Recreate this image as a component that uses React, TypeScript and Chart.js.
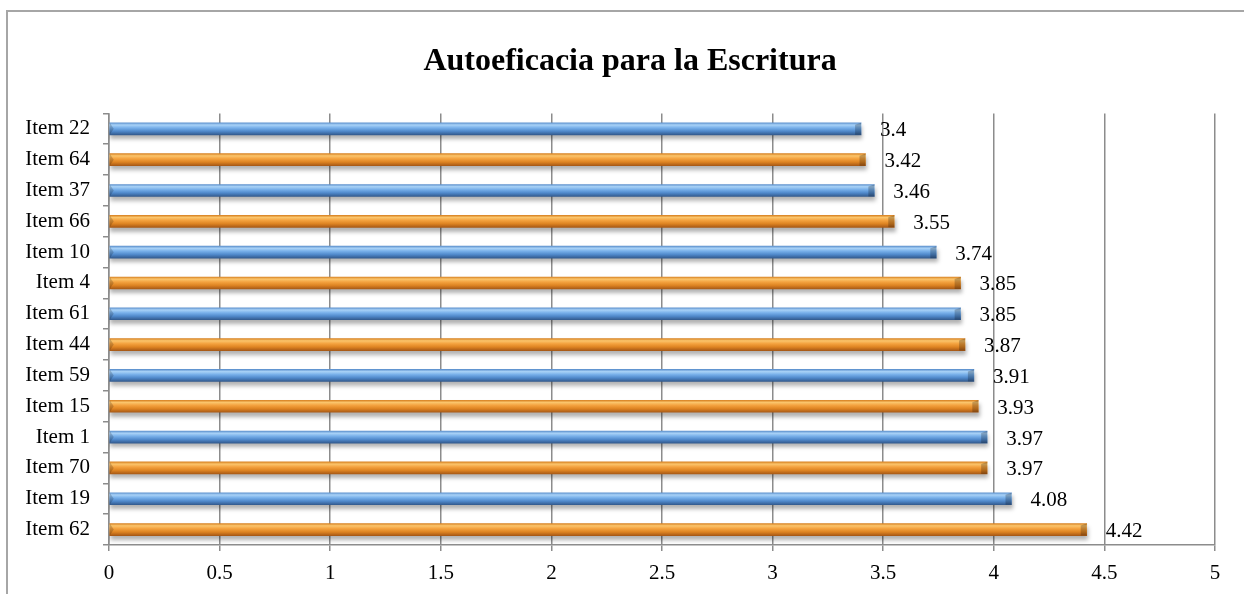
import React, { useEffect, useRef } from "react";
import { Chart, registerables } from "chart.js";

Chart.register(...registerables);

const chartTitle = "Autoeficacia para la Escritura";
const categories = [
  "Item 22", "Item 64", "Item 37", "Item 66", "Item 10", "Item 4", "Item 61",
  "Item 44", "Item 59", "Item 15", "Item 1", "Item 70", "Item 19", "Item 62",
];
const values = [3.4, 3.42, 3.46, 3.55, 3.74, 3.85, 3.85, 3.87, 3.91, 3.93, 3.97, 3.97, 4.08, 4.42];
const xTickValues = [0, 0.5, 1, 1.5, 2, 2.5, 3, 3.5, 4, 4.5, 5];

const FONT = "'Liberation Serif', 'Times New Roman', serif";
const BAR_H = 12;

const blueStops: [number, string][] = [
  [0, "#5f93cf"], [0.18, "#a9d2f7"], [0.42, "#78b0ea"], [0.7, "#5089cb"], [1, "#335b8f"],
];
const orangeStops: [number, string][] = [
  [0, "#d98424"], [0.18, "#fbc56c"], [0.42, "#f4a23f"], [0.7, "#de8422"], [1, "#a95a16"],
];

const shadowPlugin = {
  id: "barShadow",
  beforeDatasetsDraw(chart: any) {
    const ctx = chart.ctx;
    ctx.save();
    ctx.shadowColor = "rgba(0,0,0,0.3)";
    ctx.shadowBlur = 4;
    ctx.shadowOffsetX = 1;
    ctx.shadowOffsetY = 4;
  },
  afterDatasetsDraw(chart: any) {
    const ctx = chart.ctx;
    ctx.restore();
    const meta = chart.getDatasetMeta(0);
    meta.data.forEach((el: any, i: number) => {
      const h = el.height;
      const top = el.y - h / 2;
      const bottom = el.y + h / 2;
      ctx.save();
      ctx.beginPath();
      ctx.moveTo(el.x - 6, top + 2);
      ctx.lineTo(el.x, top);
      ctx.lineTo(el.x, bottom);
      ctx.lineTo(el.x - 6, bottom);
      ctx.closePath();
      ctx.fillStyle = "rgba(0,0,0,0.22)";
      ctx.fill();
      ctx.beginPath();
      ctx.moveTo(el.base, top);
      ctx.lineTo(el.base + 4, top + h / 2);
      ctx.lineTo(el.base, bottom);
      ctx.closePath();
      ctx.fillStyle = "rgba(0,0,0,0.18)";
      ctx.fill();
      ctx.fillStyle = "#000";
      ctx.font = `21px ${FONT}`;
      ctx.textAlign = "left";
      ctx.textBaseline = "middle";
      ctx.fillText(String(values[i]), el.x + 19, el.y + 2);
      ctx.restore();
    });
  },
};

export default function App() {
  const canvasRef = useRef<HTMLCanvasElement | null>(null);

  useEffect(() => {
    const canvas = canvasRef.current;
    if (!canvas) return;
    const chart = new Chart(canvas, {
      type: "bar",
      data: {
        labels: categories,
        datasets: [
          {
            data: values,
            barThickness: BAR_H,
            borderWidth: 0,
            backgroundColor: (c: any) => {
              const ch = c.chart;
              const stops = c.dataIndex % 2 === 0 ? blueStops : orangeStops;
              const yScale = ch.scales ? ch.scales.y : null;
              if (!yScale || typeof c.dataIndex !== "number") return stops[2][1];
              const cy = yScale.getPixelForValue(c.dataIndex);
              if (!isFinite(cy)) return stops[2][1];
              const g = ch.ctx.createLinearGradient(0, cy - BAR_H / 2, 0, cy + BAR_H / 2);
              stops.forEach(([o, col]) => g.addColorStop(o, col));
              return g;
            },
          },
        ],
      },
      options: {
        indexAxis: "y",
        responsive: true,
        maintainAspectRatio: false,
        animation: false,
        layout: { padding: { left: 16, right: 0, top: 0, bottom: 0 } },
        plugins: {
          legend: { display: false },
          tooltip: { enabled: false },
          title: {
            display: true,
            text: chartTitle,
            color: "#000",
            font: { family: FONT, size: 32, weight: "bold" },
            padding: { top: 43, bottom: 32 },
          },
        },
        scales: {
          x: {
            type: "linear",
            min: 0,
            max: 5,
            afterBuildTicks: (scale: any) => {
              scale.ticks = xTickValues.map((v) => ({ value: v }));
            },
            afterFit: (scale: any) => {
              scale.height = 49;
            },
            ticks: {
              color: "#000",
              font: { family: FONT, size: 21 },
              padding: 10,
              callback: (v: any) => String(v),
            },
            grid: {
              color: "#8c8c8c",
              lineWidth: 1.5,
              tickLength: 6,
            },
            border: { display: true, color: "#8c8c8c", width: 1.5 },
          },
          y: {
            type: "category",
            afterFit: (scale: any) => {
              scale.width = 93;
            },
            ticks: {
              color: "#000",
              font: { family: FONT, size: 21 },
              padding: 13,
            },
            grid: {
              offset: true,
              drawOnChartArea: false,
              color: "#8c8c8c",
              lineWidth: 1.5,
              tickLength: 6,
            },
            border: { display: true, color: "#8c8c8c", width: 1.5 },
          },
          yRight: {
            type: "category",
            position: "right",
            display: true,
            afterFit: (scale: any) => {
              scale.width = 29;
            },
            ticks: { display: false },
            grid: { display: false },
            border: { display: false },
          },
        },
      } as any,
      plugins: [shadowPlugin],
    });
    return () => chart.destroy();
  }, []);

  return (
    <div
      style={{
        position: "fixed",
        left: 0,
        top: 0,
        width: 1244,
        height: 594,
        background: "#fff",
        overflow: "hidden",
      }}
    >
      <div
        style={{
          position: "absolute",
          left: 6,
          top: 10,
          width: 1300,
          height: 700,
          border: "2px solid #a6a6a6",
          boxSizing: "border-box",
        }}
      />
      <div style={{ position: "absolute", left: 0, top: 0, width: 1244, height: 594 }}>
        <canvas ref={canvasRef} />
      </div>
    </div>
  );
}
